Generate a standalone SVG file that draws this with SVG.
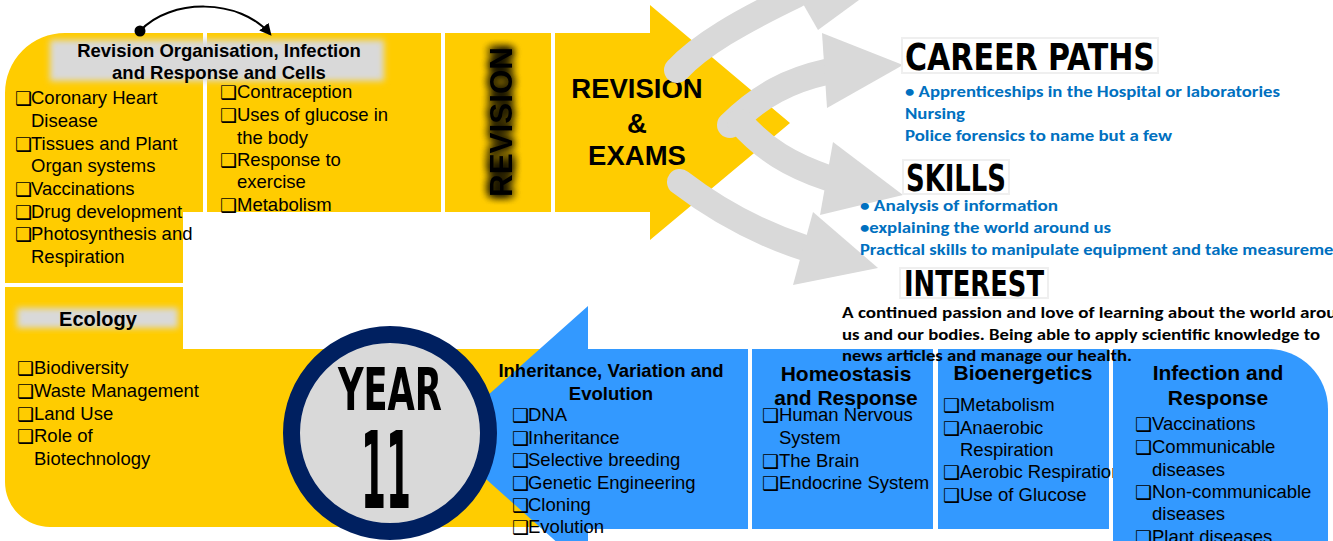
<svg xmlns="http://www.w3.org/2000/svg" width="1333" height="541" viewBox="0 0 1333 541">
<style>
.y{fill:#FFCC00}
.b{fill:#3399FF}
.it{font-family:"Liberation Sans",Arial,sans-serif;font-size:18.5px;fill:#000}
.cb{font-family:"DejaVu Sans",sans-serif;font-size:19px;fill:#000}
.hd{font-family:"Liberation Sans",Arial,sans-serif;font-weight:bold;fill:#000}
.bl{font-family:Carlito,Lato,"Open Sans",sans-serif;font-weight:bold;font-size:16px;fill:#0070C0}
.bk{font-family:Carlito,Lato,"Open Sans",sans-serif;font-weight:bold;font-size:16px;fill:#000}
.gr{font-family:"DejaVu Sans Condensed","DejaVu Sans",sans-serif;font-weight:bold;fill:#000}
.grey{fill:#D9D9D9}
.shaft{fill:none;stroke:#D9D9D9;stroke-width:26;stroke-linecap:round}
.hbox{fill:#fff;stroke:#EFEFEF;stroke-width:2}
</style>
<defs>
<filter id="blur" x="-10%" y="-30%" width="120%" height="160%"><feGaussianBlur stdDeviation="3"/></filter>
<filter id="glow" x="-50%" y="-20%" width="200%" height="140%">
<feGaussianBlur in="SourceAlpha" stdDeviation="5" result="g"/>
<feMerge><feMergeNode in="g"/><feMergeNode in="g"/><feMergeNode in="g"/><feMergeNode in="SourceGraphic"/></feMerge>
</filter>
<marker id="ah" viewBox="0 0 10 10" refX="8" refY="5" markerWidth="6" markerHeight="6" orient="auto"><path d="M0,0 L10,5 L0,10 Z" fill="#000"/></marker>
</defs>
<rect width="1333" height="541" fill="#fff"/>

<g id="node-top-left">
<path class="y" d="M5,93 A60,60 0 0 1 65,33 L203,33 L203,212 L183,212 L183,283 L5,283 Z"/>
<g class="cb"><text x="15" y="105">❑</text><text x="15" y="151">❑</text><text x="15" y="196">❑</text><text x="15" y="219">❑</text><text x="15" y="241">❑</text></g>
<g class="it"><text x="31" y="104">Coronary Heart</text><text x="31" y="127">Disease</text><text x="31" y="150">Tissues and Plant</text><text x="31" y="172">Organ systems</text><text x="31" y="195">Vaccinations</text><text x="31" y="218">Drug development</text><text x="31" y="240">Photosynthesis and</text><text x="31" y="263">Respiration</text></g>
</g>

<g id="node-top-2">
<rect class="y" x="207" y="33" width="234" height="179"/>
<g class="cb"><text x="220" y="99">❑</text><text x="220" y="122">❑</text><text x="220" y="167">❑</text><text x="220" y="212">❑</text></g>
<g class="it"><text x="237" y="98">Contraception</text><text x="237" y="121">Uses of glucose in</text><text x="237" y="144">the body</text><text x="237" y="166">Response to</text><text x="237" y="188">exercise</text><text x="237" y="211">Metabolism</text></g>
</g>

<g id="node-header">
<rect x="50" y="40" width="334" height="41" class="grey" filter="url(#blur)"/>
<text class="hd" font-size="18.5" x="219" y="57" text-anchor="middle">Revision Organisation, Infection</text>
<text class="hd" font-size="18.5" x="219" y="79" text-anchor="middle">and Response and Cells</text>
</g>

<g id="node-revision">
<rect class="y" x="445" y="33" width="106" height="179"/>
<text class="hd" font-size="31" transform="translate(512,122) rotate(-90)" x="-75" y="0" textLength="150" lengthAdjust="spacingAndGlyphs" filter="url(#glow)">REVISION</text>
</g>

<g id="node-exams">
<path class="y" d="M555,33 L650,33 L650,5 L790,123 L650,240 L650,212 L555,212 Z"/>
<text class="hd" font-size="27.5" x="637" y="98" text-anchor="middle">REVISION</text>
<text class="hd" font-size="27.5" x="637" y="133" text-anchor="middle">&amp;</text>
<text class="hd" font-size="27.5" x="637" y="165" text-anchor="middle">EXAMS</text>
</g>

<g id="node-ecology">
<path class="y" d="M5,287 L183,287 L183,349 L748,349 L748,527 L50,527 A45,45 0 0 1 5,482 Z"/>
<rect x="17" y="308" width="161" height="20" class="grey" filter="url(#blur)"/>
<text class="hd" font-size="20" x="98" y="326" text-anchor="middle">Ecology</text>
<g class="cb"><text x="17" y="375">❑</text><text x="17" y="398">❑</text><text x="17" y="421">❑</text><text x="17" y="443">❑</text></g>
<g class="it"><text x="34" y="374">Biodiversity</text><text x="34" y="397">Waste Management</text><text x="34" y="420">Land Use</text><text x="34" y="442">Role of</text><text x="34" y="465">Biotechnology</text></g>
</g>

<g id="node-inheritance">
<path class="b" d="M440,438 L588,306 L588,349 L748,349 L748,529 L588,529 L588,570 Z"/>
</g>

<g id="node-year">
<circle cx="390" cy="433" r="98.5" fill="#D9D9D9" stroke="#002060" stroke-width="17"/>
<text class="gr" font-size="59" x="338" y="410" textLength="104" lengthAdjust="spacingAndGlyphs">YEAR</text>
<text class="gr" font-size="107" x="361" y="508" textLength="50" lengthAdjust="spacingAndGlyphs">11</text>
</g>

<g id="node-inheritance-text">
<text class="hd" font-size="18.5" x="611" y="377" text-anchor="middle">Inheritance, Variation and</text>
<text class="hd" font-size="18.5" x="611" y="400" text-anchor="middle">Evolution</text>
<g class="cb"><text x="512" y="422">❑</text><text x="512" y="445">❑</text><text x="512" y="467">❑</text><text x="512" y="490">❑</text><text x="512" y="512">❑</text><text x="512" y="534">❑</text></g>
<g class="it"><text x="528" y="421">DNA</text><text x="528" y="444">Inheritance</text><text x="528" y="466">Selective breeding</text><text x="528" y="489">Genetic Engineering</text><text x="528" y="511">Cloning</text><text x="528" y="533">Evolution</text></g>
</g>

<g id="node-homeostasis">
<rect class="b" x="752" y="349" width="181" height="180"/>
<text class="hd" font-size="21" x="846" y="381" text-anchor="middle">Homeostasis</text>
<text class="hd" font-size="21" x="846" y="405" text-anchor="middle">and Response</text>
<g class="cb"><text x="762" y="422">❑</text><text x="762" y="468">❑</text><text x="762" y="490">❑</text></g>
<g class="it"><text x="779" y="421">Human Nervous</text><text x="779" y="444">System</text><text x="779" y="467">The Brain</text><text x="779" y="489">Endocrine System</text></g>
</g>

<g id="node-bioenergetics">
<rect class="b" x="938" y="349" width="171" height="180"/>
<text class="hd" font-size="21" x="1023" y="380" text-anchor="middle">Bioenergetics</text>
<g class="cb"><text x="943" y="412">❑</text><text x="943" y="435">❑</text><text x="943" y="479">❑</text><text x="943" y="502">❑</text></g>
<g class="it"><text x="960" y="411">Metabolism</text><text x="960" y="434">Anaerobic</text><text x="960" y="456">Respiration</text><text x="960" y="478">Aerobic Respiration</text><text x="960" y="501">Use of Glucose</text></g>
</g>

<g id="node-infection">
<path class="b" d="M1113,349 L1268,349 A60,60 0 0 1 1328,409 L1328,541 L1113,541 Z"/>
<text class="hd" font-size="21" x="1218" y="380" text-anchor="middle">Infection and</text>
<text class="hd" font-size="21" x="1218" y="405" text-anchor="middle">Response</text>
<g class="cb"><text x="1135" y="431">❑</text><text x="1135" y="454">❑</text><text x="1135" y="499">❑</text><text x="1135" y="544">❑</text></g>
<g class="it"><text x="1152" y="430">Vaccinations</text><text x="1152" y="453">Communicable</text><text x="1152" y="476">diseases</text><text x="1152" y="498">Non-communicable</text><text x="1152" y="520">diseases</text><text x="1152" y="543">Plant diseases</text></g>
</g>

<g id="connectors">
<path d="M140,31 C170,-2 240,-2 270,34" fill="none" stroke="#000" stroke-width="2" marker-end="url(#ah)"/>
<circle cx="140" cy="31" r="5.5" fill="#000"/>
<path class="shaft" d="M677,70 C700,45 740,22 796,-5"/>
<polygon class="grey" points="818,30 900,-30 775,-45"/>
<path class="shaft" d="M730,125 C760,95 790,80 826,72"/>
<polygon class="grey" points="822,33 903,65 827,108"/>
<path class="shaft" d="M740,122 C765,150 790,165 828,178"/>
<polygon class="grey" points="833,142 903,195 820,215"/>
<path class="shaft" d="M680,182 C710,205 750,230 805,248"/>
<polygon class="grey" points="813,212 878,268 793,285"/>
</g>

<g id="node-career">
<rect class="hbox" x="902" y="38" width="256" height="35"/>
<text class="gr" font-size="38" x="905" y="70" textLength="250" lengthAdjust="spacingAndGlyphs">CAREER PATHS</text>
<text class="bl" x="905" y="97" textLength="375" lengthAdjust="spacingAndGlyphs">• Apprenticeships in the Hospital or laboratories</text>
<text class="bl" x="905" y="119" textLength="60" lengthAdjust="spacingAndGlyphs">Nursing</text>
<text class="bl" x="905" y="141" textLength="267" lengthAdjust="spacingAndGlyphs">Police forensics to name but a few</text>
</g>

<g id="node-skills">
<rect class="hbox" x="903" y="160" width="106" height="34"/>
<text class="gr" font-size="38" x="906" y="191" textLength="100" lengthAdjust="spacingAndGlyphs">SKILLS</text>
<text class="bl" x="860" y="211" textLength="198" lengthAdjust="spacingAndGlyphs">•  Analysis of information</text>
<text class="bl" x="860" y="233" textLength="251" lengthAdjust="spacingAndGlyphs">•explaining the world around us</text>
<text class="bl" x="860" y="255" textLength="497" lengthAdjust="spacingAndGlyphs">Practical skills to manipulate equipment and take measurements</text>
</g>

<g id="node-interest">
<rect class="hbox" x="900" y="268" width="148" height="30"/>
<text class="gr" font-size="36" x="904" y="296" textLength="140" lengthAdjust="spacingAndGlyphs">INTEREST</text>
<text class="bk" x="842" y="318" textLength="515" lengthAdjust="spacingAndGlyphs">A continued passion and love of learning about the world around</text>
<text class="bk" x="842" y="340" textLength="478" lengthAdjust="spacingAndGlyphs">us and our bodies. Being able to apply scientific knowledge to</text>
<text class="bk" x="842" y="361" textLength="290" lengthAdjust="spacingAndGlyphs">news articles and manage our health.</text>
</g>
</svg>
